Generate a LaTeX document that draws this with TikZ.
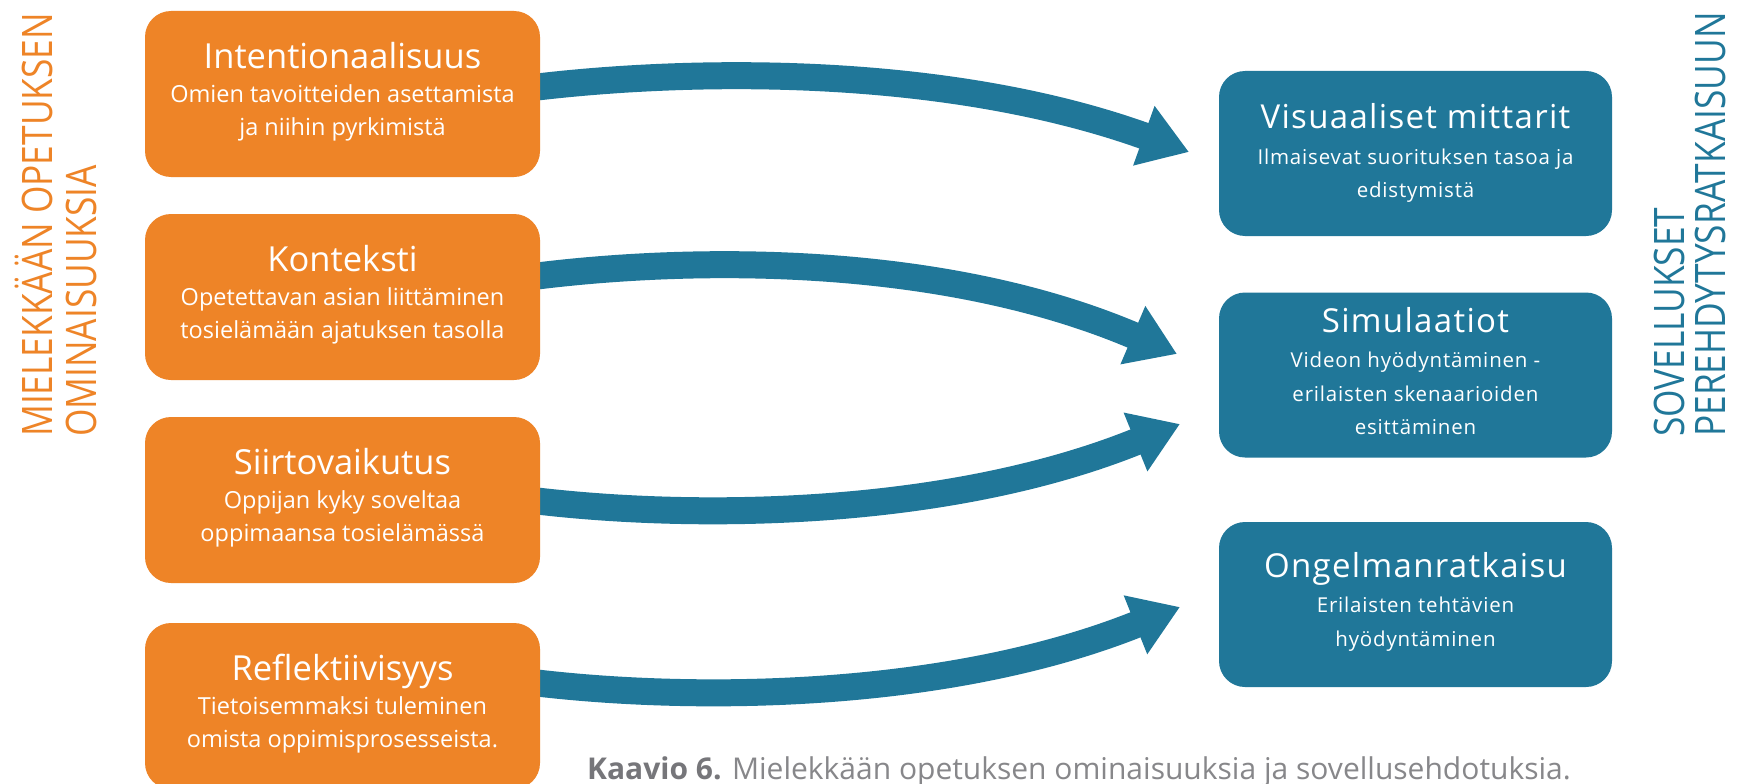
\documentclass[tikz,border=0pt]{standalone}
\usepackage{fontspec}
\setmainfont{Open Sans}
\newfontfamily\sidefont[FakeStretch=0.84]{Open Sans}
\newfontfamily\bluefont[LetterSpace=4.0]{Open Sans}
\newfontfamily\bluesubfont[LetterSpace=4.0]{Open Sans}
\usetikzlibrary{arrows.meta,calc,backgrounds}
\definecolor{orangeC}{RGB}{238,132,39}
\definecolor{blueC}{RGB}{32,119,153}
\definecolor{capgray}{RGB}{135,135,138}
\definecolor{capgrayb}{RGB}{118,118,122}
\tikzset{
  obox/.style={fill=orangeC, rounded corners=26pt, minimum width=395pt, minimum height=166pt, inner sep=0pt},
  bbox/.style={fill=blueC, rounded corners=26pt, minimum width=393pt, minimum height=165pt, inner sep=0pt},
  ot/.style={text=white, anchor=base, inner sep=0pt, font=\fontsize{34.5}{40}\selectfont},
  os/.style={text=white, anchor=base, inner sep=0pt, font=\fontsize{23.5}{30}\selectfont},
  bt/.style={text=white, anchor=base, inner sep=0pt, font=\bluefont\fontsize{33}{40}\selectfont},
  bs/.style={text=white, anchor=base, inner sep=0pt, font=\bluesubfont\fontsize{20.5}{26}\selectfont},
  side/.style={anchor=base west, rotate=90, inner sep=0pt, font=\sidefont\fontsize{42}{50}\selectfont},
  arr/.style={draw=blueC, line width=27pt, -{Triangle[length=48pt, width=60pt]}}
}
\begin{document}
\begin{tikzpicture}[x=1pt,y=-1pt]
\useasboundingbox (0,0) rectangle (1737,784);
% boxes
\node[obox] (o1) at (342.5,94) {};
\node[obox] (o2) at (342.5,297) {};
\node[obox] (o3) at (342.5,500) {};
\node[obox] (o4) at (342.5,706) {};
\node[bbox] (b1) at (1415.5,153.5) {};
\node[bbox] (b2) at (1415.5,375) {};
\node[bbox] (b3) at (1415.5,604.5) {};
% arrow end points
\coordinate (t1) at (1189,152);
\coordinate (t2) at (1177,354);
\coordinate (t3) at (1180,424);
\coordinate (t4) at (1180,607);
\begin{scope}[on background layer]
\fill[white] (0,0) rectangle (1737,784);
\draw[arr] ($(o1.east)+(-3,-7)$) .. controls (700,68) and (950,66) .. (t1);
\draw[arr] ($(o2.east)+(-3,-21)$) .. controls (700,256) and (945,255) .. (t2);
\draw[arr] ($(o3.east)+(-3,1)$) .. controls (700,520) and (950,517) .. (t3);
\draw[arr] ($(o4.east)+(-3,-23)$) .. controls (700,702) and (950,699) .. (t4);
\end{scope}
% orange texts
\node[ot] (o1t) at ($(o1.north)+(0,58)$) {Intentionaalisuus};
\node[os] (o1a) at ($(o1.north)+(0,92)$) {Omien tavoitteiden asettamista};
\node[os] (o1b) at ($(o1.north)+(0,125)$) {ja niihin pyrkimistä};
\node[ot] (o2t) at ($(o2.north)+(0,58)$) {Konteksti};
\node[os] (o2a) at ($(o2.north)+(0,92)$) {Opetettavan asian liittäminen};
\node[os] (o2b) at ($(o2.north)+(0,125)$) {tosielämään ajatuksen tasolla};
\node[ot] (o3t) at ($(o3.north)+(0,58)$) {Siirtovaikutus};
\node[os] (o3a) at ($(o3.north)+(0,92)$) {Oppijan kyky soveltaa};
\node[os] (o3b) at ($(o3.north)+(0,125)$) {oppimaansa tosielämässä};
\node[ot] (o4t) at ($(o4.north)+(0,58)$) {Reflektiivisyys};
\node[os] (o4a) at ($(o4.north)+(0,92)$) {Tietoisemmaksi tuleminen};
\node[os] (o4b) at ($(o4.north)+(0,125)$) {omista oppimisprosesseista.};
% blue texts
\node[bt] (b1t) at ($(b1.north)+(0,58)$) {Visuaaliset mittarit};
\node[bs] (b1a) at ($(b1.north)+(0,94)$) {Ilmaisevat suorituksen tasoa ja};
\node[bs] (b1b) at ($(b1.north)+(0,127)$) {edistymistä};
\node[bt] (b2t) at ($(b2.north)+(0,40)$) {Simulaatiot};
\node[bs] (b2a) at ($(b2.north)+(0,75)$) {Videon hyödyntäminen -};
\node[bs] (b2b) at ($(b2.north)+(0,109)$) {erilaisten skenaarioiden};
\node[bs] (b2c) at ($(b2.north)+(0,142)$) {esittäminen};
\node[bt] (b3t) at ($(b3.north)+(0,56)$) {Ongelmanratkaisu};
\node[bs] (b3a) at ($(b3.north)+(0,91)$) {Erilaisten tehtävien};
\node[bs] (b3b) at ($(b3.north)+(0,125)$) {hyödyntäminen};
% side labels
\node[side, text=orangeC] (l1) at (52,437) {MIELEKKÄÄN OPETUKSEN};
\node[side, text=orangeC] (l2) at (96,437) {OMINAISUUKSIA};
\node[side, text=blueC] (r1) at (1684,437) {SOVELLUKSET};
\node[side, text=blueC] (r2) at (1725,437) {PEREHDYTYSRATKAISUUN};
% caption
\node[anchor=base west, inner sep=0pt, text=capgray, font=\fontsize{30}{36}\selectfont] (cap) at (587,779) {{\bfseries\color{capgrayb}Kaavio 6.} Mielekkään opetuksen ominaisuuksia ja sovellusehdotuksia.};
\end{tikzpicture}
\end{document}
